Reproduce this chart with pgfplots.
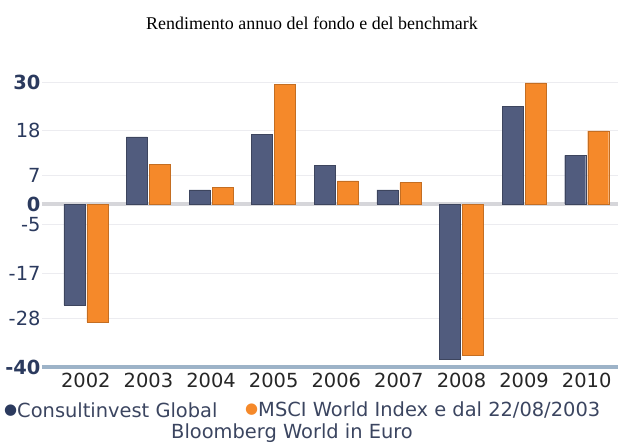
\documentclass[border=0pt]{standalone}
\usepackage{fontspec}
\setmainfont{DejaVu Sans}
\newfontfamily\titlefont{Liberation Serif}
\usepackage{pgfplots}
\pgfplotsset{compat=1.18}
\definecolor{barblue}{HTML}{515C7E}
\definecolor{barorange}{HTML}{F5892A}
\definecolor{navy}{HTML}{2B3A5E}
\definecolor{gridc}{HTML}{ECECF0}
\definecolor{zeroc}{HTML}{D6D6DA}
\definecolor{basec}{HTML}{9DB3C8}
\definecolor{legtext}{HTML}{3B4560}
\begin{document}
\begin{tikzpicture}
\path[use as bounding box] (0,0) rectangle (624bp,445bp);
\node[font=\titlefont\fontsize{18}{20}\selectfont] at (312bp,422bp) {Rendimento annuo del fondo e del benchmark};
\begin{axis}[
  at={(42bp,78bp)}, anchor=south west, scale only axis,
  width=576bp, height=285bp,
  ymin=-40, ymax=30, xmin=-0.7, xmax=8.5,
  axis x line*=bottom, axis y line*=left,
  x axis line style={basec, line width=3.5bp, -},
  y axis line style={draw=none},
  major tick length=0pt,
  ytick={-40,-28,-17,-5,7,18,30},
  yticklabels={\textbf{-40},-28,-17,-5,7,18,\textbf{30}},
  extra y ticks={0},
  extra y tick labels={\textbf{0}},
  extra y tick style={grid style={zeroc, line width=3.5bp}},
  ymajorgrids, grid style={gridc, line width=0.8bp},
  yticklabel style={font=\fontsize{19.5}{21}\selectfont, text=navy, xshift=2bp},
  xtick={0,...,8},
  xticklabels={2002,2003,2004,2005,2006,2007,2008,2009,2010},
  xticklabel style={font=\fontsize{19.5}{21}\selectfont, text=black!85, yshift=-3bp},
  ybar=2bp, bar width=21bp,
  clip=false,
]
\addplot[fill=barblue, draw=barblue!75!black, line width=0.4bp] coordinates {
(0,-24.8) (1,16.5) (2,3.5) (3,17.2) (4,9.5) (5,3.5) (6,-38) (7,24) (8,12)};
\addplot[fill=barorange, draw=barorange!80!black, line width=0.4bp] coordinates {
(0,-29) (1,9.7) (2,4.2) (3,29.5) (4,5.7) (5,5.3) (6,-37.2) (7,29.8) (8,18)};
\end{axis}
\node[anchor=west, font=\fontsize{19.5}{21}\selectfont, text=legtext, inner sep=0pt] at (4bp,35bp) {\raisebox{2.5bp}{\color{navy}\fontsize{15}{15}\selectfont●}Consultinvest Global};
\node[anchor=west, font=\fontsize{19.5}{21}\selectfont, text=legtext, inner sep=0pt] at (245bp,35bp) {\raisebox{2.5bp}{\color{barorange}\fontsize{15}{15}\selectfont●}MSCI World Index e dal 22/08/2003};
\node[font=\fontsize{19.5}{21}\selectfont, text=legtext] at (292bp,12bp) {Bloomberg World in Euro};
\end{tikzpicture}
\end{document}
